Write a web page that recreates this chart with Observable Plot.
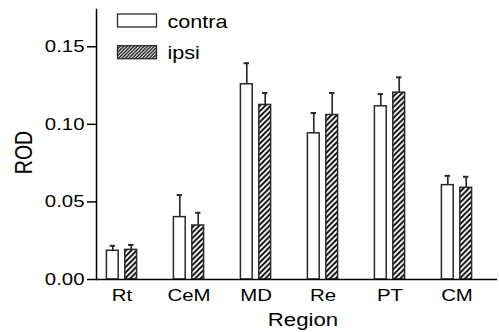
<!DOCTYPE html>
<html>
<head>
<meta charset="utf-8">
<script src="https://cdn.jsdelivr.net/npm/d3@7"></script>
<script src="https://cdn.jsdelivr.net/npm/@observablehq/plot@0.6"></script>
<style>
  html, body { margin: 0; padding: 0; background: #fff; }
  #wrap { position: relative; width: 499px; height: 332px; font-family: "Liberation Sans", Arial, sans-serif; }
  #legend { position: absolute; left: 0; top: 0; }
  svg text { font-family: "Liberation Sans", Arial, sans-serif; }
</style>
</head>
<body>
<div id="wrap"></div>
<script>
const regions = ["Rt", "CeM", "MD", "Re", "PT", "CM"];
const contra = [0.0185, 0.0402, 0.1258, 0.0942, 0.1116, 0.0608];
const contraErr = [0.0032, 0.0142, 0.0136, 0.0131, 0.0079, 0.0060];
const ipsi = [0.0191, 0.0348, 0.1125, 0.1060, 0.1204, 0.0591];
const ipsiErr = [0.0032, 0.0082, 0.0077, 0.0142, 0.0099, 0.0071];
const yTicks = [0, 0.05, 0.10, 0.15];
const seriesNames = ["contra", "ipsi"];
const yLabel = "ROD";
const xLabel = "Region";

const contraData = regions.map((r, i) => ({region: r, value: contra[i], err: contraErr[i]}));
const ipsiData = regions.map((r, i) => ({region: r, value: ipsi[i], err: ipsiErr[i]}));

const ink = "#2a2a2a";
const off = 9.2;
const barInset = 27.6;
const capInset = 30.8;
const fmt = d3.format(".2f");

function errMarks(data, dx) {
  return [
    Plot.ruleX(data, {x: "region", y1: "value", y2: d => d.value + d.err, dx, stroke: ink, strokeWidth: 1.7}),
    Plot.tickY(data, {x: "region", y: d => d.value + d.err, dx, insetLeft: capInset, insetRight: capInset, stroke: ink, strokeWidth: 2})
  ];
}

const chart = Plot.plot({
  width: 499,
  height: 332,
  marginLeft: 96,
  marginRight: 2,
  marginTop: 9,
  marginBottom: 53,
  style: {fontFamily: "Liberation Sans, Arial, sans-serif", fontSize: "17px", color: "#000", background: "#fff"},
  x: {domain: regions, range: [85.7, 491.3], padding: 0},
  y: {domain: [0, 0.174]},
  marks: [
    ...errMarks(contraData, -off),
    ...errMarks(ipsiData, off),
    Plot.barY(contraData, {x: "region", y: "value", dx: -off, insetLeft: barInset, insetRight: barInset, fill: "white", stroke: ink, strokeWidth: 1.5}),
    Plot.barY(ipsiData, {x: "region", y: "value", dx: off, insetLeft: barInset, insetRight: barInset, fill: "url(#hatchBar)", stroke: ink, strokeWidth: 1.5}),
    Plot.ruleY([0], {stroke: "#000", strokeWidth: 1.5}),
    Plot.frame({anchor: "left", stroke: "#000", strokeWidth: 1.5}),
    Plot.axisY({ticks: yTicks, tickFormat: fmt, tickSize: 9, tickPadding: 3, label: yLabel, labelAnchor: "center", labelArrow: "none", labelOffset: 80, stroke: "#000", strokeWidth: 1.5}),
    Plot.axisX({tickSize: 0, tickPadding: 9, label: xLabel, labelAnchor: "center", labelArrow: "none", labelOffset: 46})
  ]
});

const svgNS = "http://www.w3.org/2000/svg";
function addPattern(svg, id, h, sw) {
  let defs = svg.querySelector("defs");
  if (!defs) { defs = document.createElementNS(svgNS, "defs"); svg.insertBefore(defs, svg.firstChild); }
  const p = document.createElementNS(svgNS, "pattern");
  p.setAttribute("id", id);
  p.setAttribute("patternUnits", "userSpaceOnUse");
  p.setAttribute("width", h);
  p.setAttribute("height", h);
  const bg = document.createElementNS(svgNS, "rect");
  bg.setAttribute("width", h); bg.setAttribute("height", h); bg.setAttribute("fill", "#fff");
  p.appendChild(bg);
  const path = document.createElementNS(svgNS, "path");
  path.setAttribute("d", `M0,${h} L${h},0 M${-h/4},${h/4} L${h/4},${-h/4} M${3*h/4},${5*h/4} L${5*h/4},${3*h/4}`);
  path.setAttribute("stroke", "#000");
  path.setAttribute("stroke-width", sw);
  p.appendChild(path);
  defs.appendChild(p);
}
addPattern(chart, "hatchBar", 5.4, 1.8);

// horizontal stretch of a text around an anchor (fraction of its width), with optional shift
function stretch(t, sx, frac, dx = 0, dy = 0) {
  const parent = t.parentNode;
  const r = t.getBoundingClientRect();
  const ctm = parent.getScreenCTM();
  const ax = (r.left + frac * r.width - ctm.e) / ctm.a;
  const g = document.createElementNS(svgNS, "g");
  g.setAttribute("transform", `translate(${dx},${dy}) translate(${ax},0) scale(${sx},1) translate(${-ax},0)`);
  parent.insertBefore(g, t);
  g.appendChild(t);
}

document.getElementById("wrap").appendChild(chart);

const sx = 1.2;
const yTickStrs = yTicks.map(fmt);
Array.from(chart.querySelectorAll("text")).forEach(t => {
  const s = t.textContent.trim();
  t.setAttribute("fill", "#000");
  if (yTickStrs.includes(s)) { t.style.fontSize = "17px"; stretch(t, sx, 1); }
  else if (regions.includes(s)) { t.style.fontSize = "17px"; stretch(t, sx, 0.5); }
  else if (s === yLabel) { t.style.fontSize = "19.5px"; stretch(t, sx, 0.5, 0, 8); }
  else if (s === xLabel) { t.style.fontSize = "18.5px"; stretch(t, sx, 0.5, 6, 0); }
});

// Legend overlay
const leg = d3.select("#wrap").append("svg").attr("id", "legend").attr("width", 260).attr("height", 70);
addPattern(leg.node(), "hatchLeg", 3.4, 1.3);
const fills = ["white", "url(#hatchLeg)"];
seriesNames.forEach((name, i) => {
  const g = leg.append("g").attr("transform", `translate(117.5,${14 + i * 31.7})`);
  g.append("rect").attr("width", 39).attr("height", 13).attr("fill", fills[i]).attr("stroke", ink).attr("stroke-width", 1.3);
  const t = g.append("text").attr("x", 50).attr("y", 13.5).style("font-size", "18px").attr("fill", "#000").text(name);
  stretch(t.node(), sx, 0);
});
</script>
</body>
</html>
